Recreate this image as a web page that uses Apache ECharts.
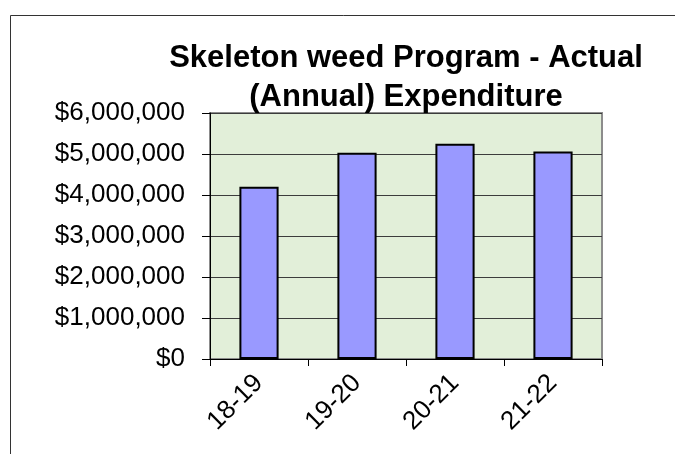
<!DOCTYPE html>
<html>
<head>
<meta charset="utf-8">
<script src="https://cdn.jsdelivr.net/npm/echarts@6/dist/echarts.min.js"></script>
<style>
html,body{margin:0;padding:0;background:#fff;}
#c{width:675px;height:454px;}
</style>
</head>
<body>
<div id="c"></div>
<script>
var categories = ['18-19', '19-20', '20-21', '21-22'];
var expenditure = [4200000, 5030000, 5250000, 5060000];
var yTicks = [0, 1000000, 2000000, 3000000, 4000000, 5000000, 6000000];

function fmt(v) {
  return '$' + String(v).replace(/\B(?=(\d{3})+(?!\d))/g, ',');
}

var chart = echarts.init(document.getElementById('c'), null, {renderer: 'canvas'});
chart.setOption({
  animation: false,
  backgroundColor: '#ffffff',
  title: {
    text: 'Skeleton weed Program - Actual\n(Annual) Expenditure',
    left: 401,
    top: 34,
    textAlign: 'center',
    textStyle: {
      fontFamily: 'Liberation Sans, Arial, sans-serif',
      fontSize: 31,
      fontWeight: 'bold',
      color: '#000',
      lineHeight: 39
    }
  },
  graphic: [{
    type: 'rect',
    shape: {x: 10.5, y: 15.5, width: 700, height: 500},
    style: {fill: 'none', stroke: '#333', lineWidth: 1},
    silent: true,
    z: 0
  }],
  grid: {
    left: 210, right: 73, top: 113, bottom: 95,
    show: true,
    backgroundColor: '#e2efd9',
    borderColor: '#8c8c8c',
    borderWidth: 2
  },
  xAxis: {
    type: 'category',
    data: categories,
    axisLine: {show: true, lineStyle: {color: '#000', width: 1}},
    axisTick: {show: true, length: 7, alignWithLabel: false, lineStyle: {color: '#000'}},
    axisLabel: {
      rotate: 45,
      margin: 20,
      fontFamily: 'Liberation Sans, Arial, sans-serif',
      fontSize: 26,
      color: '#000'
    }
  },
  yAxis: {
    type: 'value',
    min: yTicks[0],
    max: yTicks[yTicks.length - 1],
    interval: yTicks[1] - yTicks[0],
    axisLine: {show: true, lineStyle: {color: '#000', width: 1}},
    axisTick: {show: true, length: 8, lineStyle: {color: '#000'}},
    splitLine: {show: true, lineStyle: {color: '#3c3c3c', width: 1}},
    axisLabel: {
      margin: 25,
      formatter: fmt,
      fontFamily: 'Liberation Sans, Arial, sans-serif',
      fontSize: 26,
      color: '#000'
    }
  },
  series: [{
    type: 'bar',
    data: expenditure,
    barWidth: '40%',
    itemStyle: {color: '#9999ff', borderColor: '#000', borderWidth: 2}
  }]
});
</script>
</body>
</html>
